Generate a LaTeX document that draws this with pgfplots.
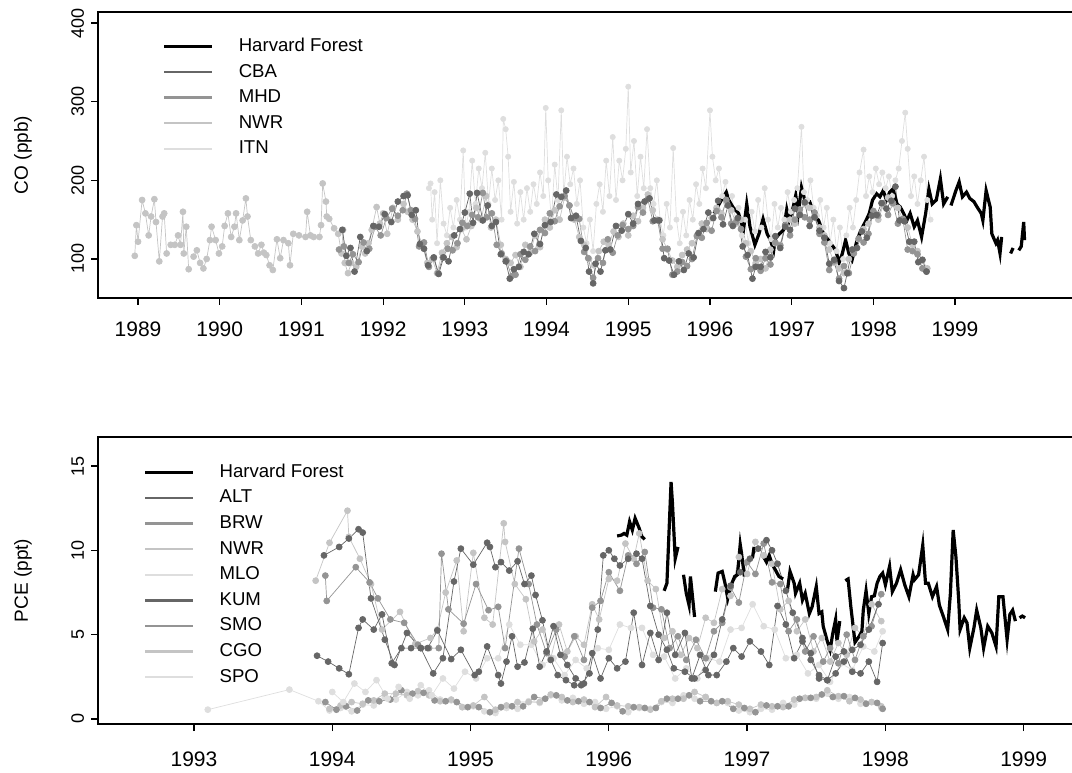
\documentclass[border=0pt]{standalone}
\usepackage{fontspec}
\setmainfont{Liberation Sans}
\usepackage{pgfplots}
\pgfplotsset{compat=1.18}

\definecolor{cD}{gray}{0.40}
\definecolor{cM}{gray}{0.58}
\definecolor{cL}{gray}{0.77}
\definecolor{cVL}{gray}{0.87}

\pgfplotsset{
  rplot/.style={
    scale only axis,
    axis line style={line width=0.8pt},
    tick align=outside,
    xtick pos=bottom, ytick pos=left,
    major tick length=3.5pt,
    tick style={black, line width=0.6pt},
    /pgf/number format/assume math mode=true,
    /pgf/number format/1000 sep={},
    yticklabel style={rotate=90, anchor=south, font=\fontsize{9}{10}\selectfont},
    xticklabel style={font=\fontsize{10.5}{12}\selectfont},
    ylabel style={font=\fontsize{9.5}{11}\selectfont},
    legend style={draw=none, fill=none, inner sep=0pt, row sep=0.8pt,
      font=\fontsize{9.3}{11}\selectfont,
      nodes={text height=7pt, text depth=2pt, inner sep=1.5pt}},
    legend cell align=left,
    legend image code/.code={\draw[##1] (0pt,0pt) -- (24pt,0pt); \path (35pt,0pt);},
    unbounded coords=jump,
  },
  st/.style={#1, line width=0.35pt, mark=*, mark size=1.5pt,
    mark options={draw=none, fill=#1}, forget plot},
  hf/.style={black, line width=1.6pt, forget plot},
}

\begin{document}
\begin{tikzpicture}
\useasboundingbox (0,0) rectangle (536pt,386pt);

% ---------------- CO panel ----------------
\begin{axis}[rplot,
  at={(49pt,237pt)}, anchor=south west,
  width=493.9pt, height=143pt,
  xmin=1988.51, xmax=2000.6, ymin=50.4, ymax=414,
  xtick={1989,1990,...,1999},
  ytick={100,200,300,400},
  xticklabel style={yshift=-5pt},
  ylabel={CO (ppb)},
  ylabel style={at={(axis description cs:-0.076,0.5)}, anchor=center},
  legend style={at={(axis description cs:0.065,0.923)}, anchor=north west},
]
\addlegendimage{black, line width=1.6pt}\addlegendentry{Harvard Forest}
\addlegendimage{cD, line width=1.2pt}\addlegendentry{CBA}
\addlegendimage{cM, line width=1.2pt}\addlegendentry{MHD}
\addlegendimage{cL, line width=1.2pt}\addlegendentry{NWR}
\addlegendimage{cVL, line width=1.2pt}\addlegendentry{ITN}

% ITN
\addplot[st=cVL, mark size=1.3pt] table {
1992.56 190
1992.58 196
1992.60 150
1992.63 185
1992.66 120
1992.70 200
1992.74 145
1992.78 130
1992.82 165
1992.86 140
1992.90 175
1992.94 150
1992.98 238
1993.01 140
1993.05 160
1993.09 225
1993.13 170
1993.17 215
1993.21 190
1993.25 235
1993.29 170
1993.33 215
1993.37 175
1993.41 200
1993.45 150
1993.47 278
1993.50 265
1993.53 230
1993.56 160
1993.60 198
1993.64 145
1993.68 185
1993.72 150
1993.76 190
1993.80 160
1993.84 195
1993.88 170
1993.92 210
1993.96 180
1993.99 292
1994.02 200
1994.06 150
1994.10 220
1994.14 175
1994.18 289
1994.21 180
1994.25 230
1994.29 195
1994.33 215
1994.37 170
1994.41 200
1994.45 140
1994.49 120
1994.53 150
1994.57 110
1994.61 170
1994.65 195
1994.69 160
1994.73 225
1994.77 180
1994.81 255
1994.85 175
1994.89 225
1994.93 200
1994.97 240
1995.00 319
1995.03 210
1995.07 250
1995.11 180
1995.15 230
1995.19 190
1995.23 265
1995.27 190
1995.31 170
1995.35 200
1995.39 150
1995.43 130
1995.47 170
1995.51 140
1995.55 241
1995.59 150
1995.63 120
1995.67 160
1995.71 130
1995.75 175
1995.79 150
1995.83 195
1995.87 170
1995.91 215
1995.95 190
1996.00 289
1996.03 230
1996.07 200
1996.11 215
1996.15 180
1996.19 198
1996.23 165
1996.27 180
1996.31 150
1996.35 165
1996.39 130
1996.43 150
1996.47 120
1996.51 160
1996.55 135
1996.59 175
1996.63 140
1996.67 190
1996.71 150
1996.75 125
1996.79 170
1996.83 140
1996.87 165
1996.91 150
1996.95 185
1996.99 160
1997.03 175
1997.07 190
1997.12 268
1997.15 185
1997.19 175
1997.23 200
1997.27 165
1997.31 155
1997.35 175
1997.39 140
1997.43 165
1997.47 120
1997.51 150
1997.55 110
1997.59 140
1997.63 100
1997.67 130
1997.71 165
1997.75 140
1997.79 175
1997.83 210
1997.88 239
1997.91 180
1997.95 205
1997.99 185
1998.03 215
1998.07 195
1998.11 210
1998.15 190
1998.19 205
1998.23 180
1998.27 200
1998.31 215
1998.35 250
1998.39 286
1998.42 240
1998.46 180
1998.50 205
1998.54 170
1998.58 200
1998.62 230
1998.66 175
1998.70 150
};

% NWR
\addplot[st=cL] table {
1988.96 104
1988.98 143
1989.00 122
1989.05 175
1989.09 158
1989.13 130
1989.16 154
1989.20 176
1989.22 147
1989.26 97
1989.30 154
1989.32 158
1989.35 107
nan nan
1989.40 118
1989.45 118
1989.49 130
1989.52 118
1989.55 160
1989.56 107
1989.59 141
1989.62 87
nan nan
1989.68 103
1989.72 111
1989.76 95
1989.80 88
1989.84 100
1989.88 124
1989.90 141
1989.95 124
1989.99 107
1990.03 116
1990.06 142
1990.10 158
1990.14 128
1990.18 141
1990.20 158
1990.24 124
1990.28 149
1990.32 177
1990.34 154
1990.38 124
nan nan
1990.43 116
1990.47 107
1990.51 118
1990.54 108
1990.57 105
1990.61 92
1990.65 86
1990.70 125
1990.74 101
1990.78 124
nan nan
1990.84 120
1990.86 92
1990.90 132
1990.97 130
1991.05 128
1991.07 160
1991.11 130
1991.15 128
1991.22 128
1991.24 143
1991.26 196
1991.30 173
1991.31 154
1991.34 151
1991.40 139
1991.45 132
1991.49 107
1991.51 137
1991.53 95
1991.57 82
1991.61 95
1991.67 90
1991.74 116
1991.78 107
1991.82 120
1991.86 137
1991.92 166
1991.96 145
1992.00 158
1992.05 132
1992.12 165
1992.18 150
1992.25 170
1992.30 160
1992.36 150
1992.42 135
1992.48 118
1992.54 95
1992.60 100
1992.66 82
1992.72 108
1992.78 120
1992.84 128
1992.90 115
1992.96 138
1993.02 125
1993.08 142
1993.14 165
1993.20 150
1993.26 180
1993.32 140
1993.38 150
1993.44 118
1993.50 100
1993.56 95
1993.62 105
1993.68 90
1993.74 118
1993.80 108
1993.86 130
1993.92 115
1993.98 150
1994.04 140
1994.10 162
1994.16 150
1994.22 178
1994.28 168
1994.34 150
1994.40 128
1994.46 118
1994.52 100
1994.58 92
1994.64 110
1994.70 122
1994.76 118
1994.82 135
1994.88 128
1994.94 145
1995.00 130
1995.06 155
1995.12 148
1995.18 165
1995.24 182
1995.30 162
1995.36 150
1995.42 125
1995.48 112
1995.54 98
1995.60 90
1995.66 105
1995.72 112
1995.78 120
1995.84 130
1995.90 145
1995.96 138
1996.02 152
1996.08 165
1996.14 158
1996.20 172
1996.26 162
1996.32 145
1996.38 150
1996.44 120
1996.50 110
1996.56 95
1996.62 100
1996.68 88
1996.74 112
1996.80 120
1996.86 118
1996.92 142
1996.98 150
1997.04 145
1997.10 158
1997.16 170
1997.22 165
1997.28 155
1997.34 140
1997.40 130
1997.46 112
1997.52 95
1997.58 88
1997.64 82
1997.70 100
1997.76 110
1997.82 125
1997.88 138
1997.94 145
1998.00 155
1998.06 150
1998.12 168
1998.18 178
1998.24 170
1998.30 165
1998.36 150
1998.42 140
1998.48 118
1998.54 110
1998.60 98
1998.66 88
};

% MHD
\addplot[st=cM] table {
1991.46 112
1991.52 116
1991.58 95
1991.63 106
1991.70 96
1991.76 121
1991.83 113
1991.90 141
1991.97 130
1992.04 152
1992.11 164
1992.18 155
1992.24 162
1992.29 183
1992.34 162
1992.39 151
1992.44 116
1992.50 121
1992.56 90
1992.62 101
1992.67 82
1992.73 102
1992.79 113
1992.85 111
1992.91 120
1992.97 146
1993.03 142
1993.09 156
1993.16 153
1993.22 184
1993.27 153
1993.33 158
1993.39 118
1993.45 107
1993.51 98
1993.57 78
1993.62 80
1993.68 106
1993.74 99
1993.80 116
1993.86 110
1993.92 137
1993.98 133
1994.04 158
1994.10 148
1994.16 167
1994.22 180
1994.28 168
1994.34 152
1994.40 151
1994.46 109
1994.51 101
1994.57 76
1994.63 101
1994.69 95
1994.75 125
1994.81 108
1994.87 130
1994.93 143
1995.00 138
1995.06 142
1995.12 166
1995.18 159
1995.24 176
1995.30 148
1995.36 149
1995.42 113
1995.48 113
1995.54 80
1995.60 84
1995.66 96
1995.72 91
1995.78 100
1995.84 129
1995.90 127
1995.96 146
1996.02 136
1996.08 161
1996.14 153
1996.20 175
1996.26 145
1996.32 147
1996.38 138
1996.44 103
1996.50 87
1996.56 101
1996.62 85
1996.68 101
1996.74 93
1996.80 121
1996.86 117
1996.92 143
1996.98 130
1997.04 150
1997.10 163
1997.16 153
1997.22 150
1997.28 159
1997.34 132
1997.40 121
1997.46 86
1997.52 97
1997.58 75
1997.64 91
1997.70 82
1997.76 107
1997.82 126
1997.88 121
1997.94 132
1998.00 161
1998.06 155
1998.12 171
1998.18 156
1998.24 171
1998.30 145
1998.36 151
1998.42 112
1998.48 110
1998.54 106
1998.60 88
1998.65 84
};

% CBA
\addplot[st=cD] table {
1991.50 137
1991.55 104
1991.60 114
1991.65 84
1991.72 128
1991.80 110
1991.88 142
1991.95 141
1992.02 157
1992.10 147
1992.18 173
1992.25 180
1992.30 181
1992.35 156
1992.40 162
1992.45 119
1992.50 113
1992.55 92
1992.62 102
1992.68 81
1992.74 102
1992.80 97
1992.87 130
1992.94 138
1993.00 159
1993.06 183
1993.10 146
1993.15 184
1993.22 149
1993.28 168
1993.33 142
1993.38 147
1993.44 106
1993.50 97
1993.55 75
1993.60 87
1993.66 90
1993.72 109
1993.78 106
1993.85 132
1993.92 119
1993.98 143
1994.05 147
1994.12 182
1994.18 179
1994.24 187
1994.30 152
1994.36 155
1994.42 123
1994.48 114
1994.52 84
1994.57 69
1994.60 94
1994.66 84
1994.72 111
1994.78 112
1994.85 142
1994.92 136
1995.00 157
1995.06 145
1995.12 170
1995.20 173
1995.26 177
1995.32 149
1995.38 149
1995.44 101
1995.50 98
1995.56 80
1995.62 97
1995.68 86
1995.74 107
1995.80 102
1995.86 133
1995.92 138
1995.98 159
1996.04 152
1996.10 174
1996.16 144
1996.22 168
1996.28 142
1996.34 152
1996.40 116
1996.46 105
1996.52 75
1996.56 90
1996.62 90
1996.68 109
1996.74 102
1996.80 129
1996.86 114
1996.92 141
1996.98 137
1997.04 164
1997.10 156
1997.16 172
1997.22 142
1997.28 153
1997.34 136
1997.40 127
1997.46 94
1997.52 99
1997.58 72
1997.64 63
1997.68 82
1997.74 112
1997.80 114
1997.86 135
1997.92 127
1997.98 155
1998.04 156
1998.10 171
1998.16 164
1998.22 174
1998.27 192
1998.32 149
1998.38 148
1998.44 122
1998.50 122
1998.55 96
1998.60 99
1998.65 84
};

% Harvard Forest
\addplot[hf] table {
1996.05 158
1996.14 175
1996.20 185
1996.23 175
1996.28 166
1996.35 158
1996.41 137
1996.45 170
1996.49 141
1996.55 118
1996.60 132
1996.65 151
1996.70 132
1996.74 124
1996.78 111
1996.80 126
1996.85 132
1996.90 137
1996.94 163
1996.97 149
1997.01 162
1997.05 181
1997.08 158
1997.12 191
1997.16 175
1997.22 173
1997.27 158
1997.33 149
1997.39 132
1997.45 124
1997.49 118
1997.54 111
1997.58 95
1997.62 107
1997.66 124
1997.70 107
1997.74 99
1997.79 120
1997.83 132
1997.87 141
1997.91 149
1997.95 158
1997.99 175
1998.04 183
1998.08 179
1998.12 187
1998.16 175
1998.20 185
1998.24 189
1998.29 170
1998.33 166
1998.37 158
1998.41 149
1998.45 158
1998.50 141
1998.54 149
1998.59 128
1998.64 158
1998.68 189
1998.72 170
1998.77 175
1998.82 202
1998.86 170
1998.91 179
nan nan
1998.95 168
1999.01 187
1999.05 198
1999.09 179
1999.14 185
1999.18 177
1999.23 173
1999.27 166
1999.32 158
1999.34 149
1999.38 187
1999.43 166
1999.45 132
1999.50 120
1999.52 124
1999.55 107
1999.57 128
nan nan
1999.68 107
1999.71 114
nan nan
1999.78 111
1999.81 116
1999.84 147
1999.85 124
};
\end{axis}

% ---------------- PCE panel ----------------
\begin{axis}[rplot,
  at={(49pt,24pt)}, anchor=south west,
  width=491.2pt, height=143.5pt,
  xmin=1992.306, xmax=1999.41, ymin=-0.3, ymax=16.72,
  xtick={1993,1994,...,1999},
  ytick={0,5,10,15},
  xticklabel style={yshift=-7pt},
  ylabel={PCE (ppt)},
  ylabel style={at={(axis description cs:-0.0765,0.5)}, anchor=center},
  legend style={at={(axis description cs:0.0458,0.92)}, anchor=north west},
]
\addlegendimage{black, line width=1.6pt}\addlegendentry{Harvard Forest}
\addlegendimage{cD, line width=1.2pt}\addlegendentry{ALT}
\addlegendimage{cM, line width=1.2pt}\addlegendentry{BRW}
\addlegendimage{cL, line width=1.2pt}\addlegendentry{NWR}
\addlegendimage{cVL, line width=1.2pt}\addlegendentry{MLO}
\addlegendimage{cD, line width=1.2pt}\addlegendentry{KUM}
\addlegendimage{cM, line width=1.2pt}\addlegendentry{SMO}
\addlegendimage{cL, line width=1.2pt}\addlegendentry{CGO}
\addlegendimage{cVL, line width=1.2pt}\addlegendentry{SPO}

% SPO
\addplot[st=cVL] table {
1993.10 0.55
1993.69 1.74
1993.90 1.05
1993.98 0.5
1994.06 0.65
1994.14 0.45
1994.22 0.85
1994.30 0.8
1994.38 1.3
1994.46 1.15
1994.54 1.6
1994.62 1.4
1994.70 1.7
1994.78 1.15
1994.86 1.1
1994.94 0.7
1995.02 0.75
1995.10 0.45
1995.18 0.35
1995.26 0.65
1995.34 0.6
1995.42 1.05
1995.50 0.95
1995.58 1.4
1995.66 1.1
1995.74 1.25
1995.82 0.9
1995.90 1.0
1995.98 0.6
1996.06 0.75
1996.14 0.4
1996.22 0.65
1996.30 0.6
1996.38 1.0
1996.46 0.95
1996.54 1.4
1996.62 1.2
1996.70 1.3
1996.78 0.95
1996.86 0.95
1996.94 0.5
1997.02 0.4
1997.10 0.6
1997.18 0.55
1997.26 0.95
1997.34 0.85
1997.42 1.25
1997.50 1.2
1997.58 1.5
1997.66 1.2
1997.74 1.3
1997.82 0.9
1997.90 1.0
1997.97 0.65
};

% CGO
\addplot[st=cL] table {
1993.98 0.6
1994.06 0.8
1994.14 1.0
1994.22 0.9
1994.30 1.1
1994.38 1.5
1994.46 1.5
1994.54 1.4
1994.62 1.65
1994.70 1.4
1994.78 1.05
1994.86 1.15
1994.94 0.7
1995.02 0.8
1995.10 1.3
1995.18 0.55
1995.26 0.8
1995.34 1.0
1995.42 1.0
1995.50 1.0
1995.58 1.45
1995.66 1.3
1995.74 1.0
1995.82 1.15
1995.90 0.7
1995.98 1.3
1996.06 0.8
1996.14 0.75
1996.22 0.7
1996.30 0.55
1996.38 1.05
1996.46 1.2
1996.54 1.2
1996.62 1.6
1996.70 1.3
1996.78 0.95
1996.86 1.05
1996.94 0.85
1997.02 0.6
1997.10 0.85
1997.18 0.75
1997.26 0.7
1997.34 1.15
1997.42 1.25
1997.50 1.3
1997.58 1.7
1997.66 1.35
1997.74 1.05
1997.82 1.15
1997.90 1.0
1997.97 0.75
};

% SMO
\addplot[st=cM] table {
1993.95 1.0
1994.03 0.55
1994.10 0.75
1994.18 0.5
1994.26 1.1
1994.34 1.05
1994.42 1.15
1994.50 1.7
1994.58 1.5
1994.66 1.55
1994.74 1.1
1994.82 1.05
1994.90 1.0
1994.98 0.7
1995.06 0.7
1995.14 0.4
1995.22 0.7
1995.30 0.75
1995.38 0.75
1995.46 1.3
1995.54 1.2
1995.62 1.4
1995.70 1.1
1995.78 1.05
1995.86 1.0
1995.94 0.65
1996.02 0.95
1996.10 0.45
1996.18 0.7
1996.26 0.65
1996.34 0.65
1996.42 1.2
1996.50 1.2
1996.58 1.4
1996.66 1.05
1996.74 1.05
1996.82 1.05
1996.90 0.6
1996.98 0.65
1997.06 0.4
1997.14 0.8
1997.22 0.75
1997.30 0.75
1997.38 1.2
1997.46 1.25
1997.54 1.45
1997.62 1.3
1997.70 1.35
1997.78 1.25
1997.86 0.9
1997.94 0.95
1997.98 0.6
};

% MLO
\addplot[st=cVL] table {
1994.00 1.6
1994.08 1.0
1994.16 2.1
1994.24 1.6
1994.32 2.3
1994.40 1.2
1994.48 1.9
1994.56 1.2
1994.64 2.0
1994.72 1.4
1994.80 2.4
1994.88 1.8
1994.96 2.8
1995.04 2.4
1995.12 3.6
1995.20 3.6
1995.28 5.6
1995.36 4.4
1995.44 4.4
1995.52 3.2
1995.60 3.6
1995.68 2.6
1995.76 3.5
1995.84 3.0
1995.92 4.2
1996.00 4.1
1996.08 5.6
1996.16 5.4
1996.24 5.4
1996.32 3.8
1996.40 3.7
1996.48 2.4
1996.56 3.0
1996.64 2.4
1996.72 3.6
1996.80 3.4
1996.88 5.3
1996.96 5.4
1997.04 6.8
1997.12 5.5
1997.20 5.3
1997.28 3.6
1997.36 3.8
1997.44 2.7
1997.52 3.2
1997.60 2.2
1997.68 3.3
1997.76 2.9
1997.84 4.3
1997.92 4.0
1997.98 5.2
};

% NWR
\addplot[st=cL] table {
1993.88 8.2
1993.98 10.45
1994.11 12.35
1994.12 10.8
1994.20 9.5
1994.28 8.0
1994.36 5.3
1994.49 6.35
1994.60 4.45
1994.71 4.8
1994.76 5.3
1994.82 7.5
1994.90 9.4
1994.95 5.2
1995.02 9.85
1995.10 6.0
1995.16 5.6
1995.24 11.6
1995.25 10.5
1995.32 8.0
1995.40 7.1
1995.46 4.6
1995.52 5.3
1995.58 3.6
1995.64 5.6
1995.70 4.0
1995.76 4.9
1995.82 4.4
1995.88 6.8
1995.93 5.9
1996.00 8.3
1996.06 8.2
1996.12 10.4
1996.18 9.5
1996.22 11.0
1996.28 8.2
1996.34 7.7
1996.40 4.8
1996.46 5.2
1996.52 3.8
1996.58 4.8
1996.64 4.2
1996.70 6.0
1996.76 5.7
1996.82 7.7
1996.88 7.3
1996.94 9.6
1997.00 8.6
1997.06 10.5
1997.12 9.7
1997.18 9.2
1997.24 6.5
1997.30 7.0
1997.36 5.2
1997.42 5.9
1997.48 4.0
1997.54 4.8
1997.60 3.4
1997.66 4.5
1997.72 3.8
1997.78 5.4
1997.84 4.9
1997.90 6.8
1997.97 5.8
};

% BRW
\addplot[st=cM] table {
1993.95 8.5
1993.96 7.0
1994.17 9.0
1994.27 8.1
1994.33 7.15
1994.42 5.9
1994.52 5.7
1994.62 4.4
1994.70 4.2
1994.77 4.2
1994.79 9.8
1994.84 6.5
1994.95 5.65
1995.04 8.0
1995.13 6.45
1995.20 6.65
1995.25 4.2
1995.35 10.1
1995.42 8.0
1995.48 5.6
1995.55 3.9
1995.62 5.3
1995.68 3.7
1995.75 4.9
1995.82 3.5
1995.88 6.6
1995.94 7.0
1996.00 8.7
1996.08 7.6
1996.14 9.7
1996.20 9.2
1996.26 9.9
1996.32 6.6
1996.38 6.5
1996.44 4.2
1996.50 4.9
1996.56 3.5
1996.63 4.7
1996.70 3.6
1996.76 5.2
1996.82 5.7
1996.88 7.8
1996.94 6.9
1997.00 9.3
1997.06 8.6
1997.12 10.4
1997.18 8.1
1997.24 8.0
1997.30 5.2
1997.36 5.9
1997.42 4.0
1997.48 4.9
1997.55 3.4
1997.60 4.2
1997.66 3.3
1997.72 5.0
1997.78 3.5
1997.84 4.9
1997.90 5.5
1997.97 7.4
};

% KUM
\addplot[st=cD] table {
1993.89 3.75
1993.97 3.4
1994.05 3.0
1994.12 2.65
1994.19 5.4
1994.22 5.9
1994.30 5.3
1994.36 6.2
1994.43 3.3
1994.50 4.2
1994.57 4.2
1994.64 4.2
1994.69 4.2
1994.76 5.25
1994.86 3.55
1994.93 4.1
1995.03 2.6
1995.06 2.8
1995.12 4.3
1995.20 2.6
1995.22 2.1
1995.26 3.4
1995.30 4.9
1995.34 3.1
1995.39 3.35
1995.45 5.35
1995.50 3.1
1995.55 4.0
1995.60 5.5
1995.65 3.8
1995.70 3.2
1995.76 2.4
1995.82 2.1
1995.88 3.9
1995.94 2.4
1996.00 3.6
1996.06 3.0
1996.12 3.4
1996.18 6.3
1996.24 3.2
1996.30 5.1
1996.36 3.5
1996.42 6.3
1996.48 3.8
1996.55 5.1
1996.60 2.4
1996.66 3.8
1996.72 2.6
1996.78 2.6
1996.85 3.4
1996.90 4.2
1996.96 3.7
1997.02 4.6
1997.10 4.0
1997.16 3.2
1997.22 6.7
1997.28 5.6
1997.34 3.6
1997.40 4.6
1997.46 3.9
1997.52 2.4
1997.58 2.3
1997.64 3.7
1997.70 4.0
1997.76 2.8
1997.82 2.7
1997.88 3.4
1997.94 2.2
1997.98 4.5
};

% ALT
\addplot[st=cD] table {
1993.94 9.7
1994.05 10.2
1994.12 10.7
1994.19 11.25
1994.22 11.05
1994.28 7.15
1994.38 4.7
1994.45 3.2
1994.54 5.1
1994.64 4.2
1994.73 2.7
1994.80 3.6
1994.88 8.15
1994.93 10.1
1995.02 9.15
1995.12 10.45
1995.14 10.2
1995.18 9.0
1995.22 9.3
1995.28 8.8
1995.34 9.35
1995.39 8.0
1995.44 8.5
1995.47 7.35
1995.52 5.85
1995.58 3.5
1995.63 2.6
1995.69 2.3
1995.75 2.0
1995.80 2.0
1995.86 2.7
1995.92 5.3
1995.96 9.7
1996.00 10.0
1996.04 9.5
1996.08 9.1
1996.14 9.5
1996.20 9.8
1996.24 9.5
1996.30 6.7
1996.36 5.0
1996.42 4.1
1996.47 3.0
1996.55 2.8
1996.62 2.4
1996.70 2.9
1996.76 3.8
1996.82 5.9
1996.88 7.9
1996.95 8.7
1997.02 9.5
1997.08 10.1
1997.14 10.6
1997.18 10.0
1997.22 9.2
1997.28 7.6
1997.33 6.3
1997.40 4.8
1997.46 3.5
1997.52 2.6
1997.58 2.3
1997.64 2.7
1997.70 3.4
1997.76 4.1
1997.82 4.4
1997.88 5.3
1997.95 6.8
};

% Harvard Forest
\addplot[hf] table {
1996.06 10.85
1996.09 10.9
1996.11 11.0
1996.13 10.9
1996.15 11.7
1996.17 11.2
1996.19 11.9
1996.22 11.3
1996.24 10.8
1996.26 10.65
nan nan
1996.40 7.6
1996.42 8.05
1996.45 14.05
1996.46 12.8
1996.48 9.5
1996.50 10.2
nan nan
1996.54 8.55
1996.56 7.45
1996.58 6.75
1996.59 8.45
1996.62 6.05
nan nan
1996.77 7.55
1996.79 8.65
1996.82 8.75
1996.84 8.05
1996.86 7.15
1996.88 7.85
1996.91 8.45
1996.93 8.55
1996.95 10.35
1996.96 9.8
1996.98 8.45
nan nan
1997.02 9.45
1997.04 9.6
1997.05 10.2
nan nan
1997.12 9.6
1997.14 9.3
1997.16 9.7
1997.18 9.2
1997.21 8.75
1997.23 8.45
1997.26 8.3
nan nan
1997.29 7.55
1997.31 8.75
1997.34 8.05
1997.35 7.45
1997.38 8.05
1997.40 7.05
1997.42 7.45
1997.45 6.25
1997.47 6.65
1997.50 7.85
1997.52 6.25
1997.54 6.35
1997.55 5.5
1997.58 4.6
1997.60 4.1
1997.62 5.1
1997.64 5.9
1997.65 4.6
1997.67 5.8
nan nan
1997.71 8.2
1997.73 8.3
1997.75 6.65
1997.78 4.55
1997.81 4.9
1997.83 5.2
1997.84 6.45
1997.86 7.6
1997.88 6.25
1997.90 7.25
1997.92 7.3
1997.94 8.05
1997.96 8.45
1997.98 8.65
1998.00 7.95
1998.03 9.05
1998.05 7.55
1998.08 8.05
1998.11 8.85
1998.14 7.95
1998.17 7.25
1998.20 8.55
1998.21 8.25
1998.24 8.55
1998.27 10.3
1998.29 8.05
1998.31 8.05
1998.34 7.25
1998.37 7.85
1998.39 6.75
1998.42 6.05
1998.45 5.3
1998.47 7.45
1998.49 11.2
1998.51 9.6
1998.53 7.05
1998.54 5.3
1998.57 6.0
1998.59 5.7
1998.61 4.2
1998.64 5.4
1998.66 6.45
1998.69 5.4
1998.71 4.2
1998.74 5.5
1998.77 5.1
1998.80 4.3
1998.82 7.25
1998.85 7.25
1998.88 4.7
1998.90 6.2
1998.92 6.45
1998.94 5.8
nan nan
1998.97 6.0
1998.99 6.1
1999.01 6.0
};
\end{axis}
\end{tikzpicture}
\end{document}
